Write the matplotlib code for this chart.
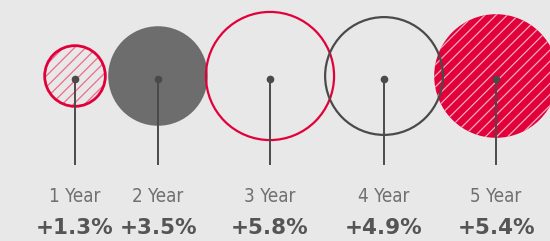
import numpy as np
import matplotlib.pyplot as plt
from matplotlib.patches import Circle

plt.rcParams['hatch.linewidth'] = 0.9

periods = ['1 Year', '2 Year', '3 Year', '4 Year', '5 Year']
returns = [1.3, 3.5, 5.8, 4.9, 5.4]

xpos = [75, 158, 270, 384, 496]
red = '#e2003b'
dark = '#4a4a4a'
bg = '#e8e8e8'

fig = plt.figure(figsize=(5.5, 2.41), dpi=100, facecolor=bg)
ax = fig.add_axes([0, 0, 1, 1])
ax.set_facecolor(bg)
ax.set_xlim(0, 550)
ax.set_ylim(241, 0)
ax.set_aspect('equal')
ax.axis('off')

# circle area is proportional to the return
k = 26.6
cy = 76
for i, (lab, v, x) in enumerate(zip(periods, returns, xpos)):
    r = k * np.sqrt(v)
    if i == 0:
        ax.add_patch(Circle((x, cy), r, facecolor='none', edgecolor='#ec6d8a',
                            hatch='///', lw=0, zorder=2))
        ax.add_patch(Circle((x, cy), r, fill=False, edgecolor=red, lw=2, zorder=3))
    elif i == 1:
        ax.add_patch(Circle((x, cy), r, facecolor='#6d6d6d', edgecolor='none', zorder=1))
    elif i == 2:
        ax.add_patch(Circle((x, cy), r, fill=False, edgecolor=red, lw=1.6, zorder=3))
    elif i == 3:
        ax.add_patch(Circle((x, cy), r, fill=False, edgecolor=dark, lw=1.6, zorder=3))
    else:
        ax.add_patch(Circle((x, cy), r, facecolor=red, edgecolor='none', zorder=1))
        ax.add_patch(Circle((x, cy), r, facecolor='none', edgecolor='#f7a9bb',
                            hatch='///', lw=0, zorder=2))
    ax.plot([x, x], [79, 164], color=dark, lw=1.4, zorder=4)
    ax.plot(x, 79, 'o', color=dark, ms=4.5, zorder=5)
    ax.text(x, 196, lab, ha='center', va='center', fontsize=13.5, color='#707070',
            family=['Liberation Sans Narrow', 'DejaVu Sans'], fontstretch='condensed')
    ax.text(x, 228, '+%.1f%%' % v, ha='center', va='center', fontsize=15.5,
            fontweight='bold', color='#555555', family=['DejaVu Sans'])

fig.savefig('out.png', dpi=100, facecolor=bg)
